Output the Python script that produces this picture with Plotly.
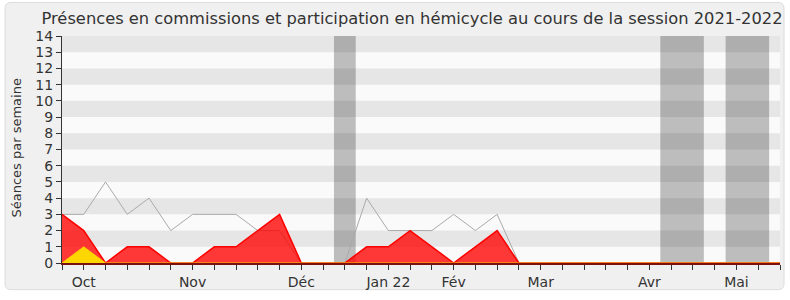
import plotly.graph_objects as go

weeks = list(range(34))
presence_total = [3, 3, 5, 3, 4, 2, 3, 3, 3, 2, 2, 0, 0, 0, 4, 2, 2, 2, 3, 2, 3, 0,
                  0, 0, 0, 0, 0, 0, 0, 0, 0, 0, 0, 0]
presence_commission = [3, 2, 0, 1, 1, 0, 0, 1, 1, 2, 3, 0, 0, 0, 1, 1, 2, 1, 0, 1, 2, 0,
                       0, 0, 0, 0, 0, 0, 0, 0, 0, 0, 0, 0]
participation = [0, 1, 0, 0, 0, 0, 0, 0, 0, 0, 0, 0, 0, 0, 0, 0, 0, 0, 0, 0, 0, 0,
                 0, 0, 0, 0, 0, 0, 0, 0, 0, 0, 0, 0]
month_ticks = [1, 6, 11, 15, 18, 22, 27, 31]
month_labels = ["Oct", "Nov", "Déc", "Jan 22", "Fév", "Mar", "Avr", "Mai"]
vacances = [(12.5, 13.5), (27.5, 29.5), (30.5, 32.5)]
title = "Présences en commissions et participation en hémicycle au cours de la session 2021-2022"

W, H = 790, 300
L, R, T, B = 62, 10, 36, 34
pw, ph = W - L - R, H - T - B

def px2x(p):
    return (p - L) / pw

def px2y(p):
    return (H - B - p) / ph

fig = go.Figure()

fig.add_trace(go.Scatter(x=weeks, y=presence_total, mode="lines",
                         line=dict(color="#aaaaaa", width=1), hoverinfo="skip"))
fig.add_trace(go.Scatter(x=weeks, y=presence_commission, mode="lines", fill="tozeroy",
                         fillcolor="rgba(255,0,0,0.78)",
                         line=dict(color="#ff0000", width=1.5), hoverinfo="skip"))
fig.add_trace(go.Scatter(x=weeks, y=participation, mode="lines", fill="tozeroy",
                         fillcolor="#ffd700",
                         line=dict(color="#ffcc00", width=1), hoverinfo="skip"))

shapes = []
# outer rounded frame
x0, x1 = px2x(5), px2x(784)
y0, y1 = px2y(293), px2y(2)
rx, ry = 6 / pw, 6 / ph
path = (f"M {x0+rx},{y1} L {x1-rx},{y1} Q {x1},{y1} {x1},{y1-ry} "
        f"L {x1},{y0+ry} Q {x1},{y0} {x1-rx},{y0} L {x0+rx},{y0} "
        f"Q {x0},{y0} {x0},{y0+ry} L {x0},{y1-ry} Q {x0},{y1} {x0+rx},{y1} Z")
shapes.append(dict(type="path", xref="paper", yref="paper", path=path,
                   fillcolor="#f0f0f0", line=dict(color="#dcdcdc", width=1), layer="below"))
shapes.append(dict(type="rect", xref="paper", yref="paper", x0=0, x1=1, y0=0, y1=1,
                   fillcolor="#fafafa", line=dict(width=0), layer="below"))
for a, b in vacances:
    shapes.append(dict(type="rect", xref="x", yref="paper", x0=a, x1=b, y0=0, y1=1,
                       fillcolor="#bdbdbd", line=dict(width=0), layer="below"))
for k in range(1, 14, 2):
    shapes.append(dict(type="rect", xref="paper", yref="y", x0=0, x1=1, y0=k, y1=k + 1,
                       fillcolor="rgba(0,0,0,0.08)", line=dict(width=0), layer="below"))

fig.update_layout(
    width=W, height=H,
    margin=dict(l=L, r=R, t=T, b=B),
    paper_bgcolor="white",
    plot_bgcolor="rgba(0,0,0,0)",
    showlegend=False,
    shapes=shapes,
    font=dict(family="DejaVu Sans", color="#333333"),
    title=dict(text=title, x=px2x(412), xref="paper", xanchor="center",
               y=1 - 18 / H, yref="container", yanchor="middle",
               font=dict(size=16.3, color="#333333")),
    annotations=[dict(text="Séances par semaine", textangle=-90, xref="paper", yref="paper",
                      x=px2x(17), y=px2y(150), xanchor="center", yanchor="middle",
                      showarrow=False, font=dict(size=13, color="#333333"))],
)
fig.update_xaxes(range=[0, 33], showgrid=False, zeroline=False,
                 tickmode="array", tickvals=month_ticks, ticktext=month_labels,
                 ticks="outside", ticklen=5, tickcolor="#333333",
                 minor=dict(dtick=1, ticks="outside", ticklen=5, tickcolor="#333333", showgrid=False),
                 showline=True, linecolor="#7a1010", linewidth=1.5,
                 tickfont=dict(size=14, color="#333333"))
fig.update_yaxes(range=[0, 14], dtick=1, showgrid=False, zeroline=False,
                 ticks="outside", ticklen=5, tickcolor="#333333",
                 showline=True, linecolor="#333333", linewidth=1,
                 tickfont=dict(size=14, color="#333333"))

fig.write_html("out.html")
